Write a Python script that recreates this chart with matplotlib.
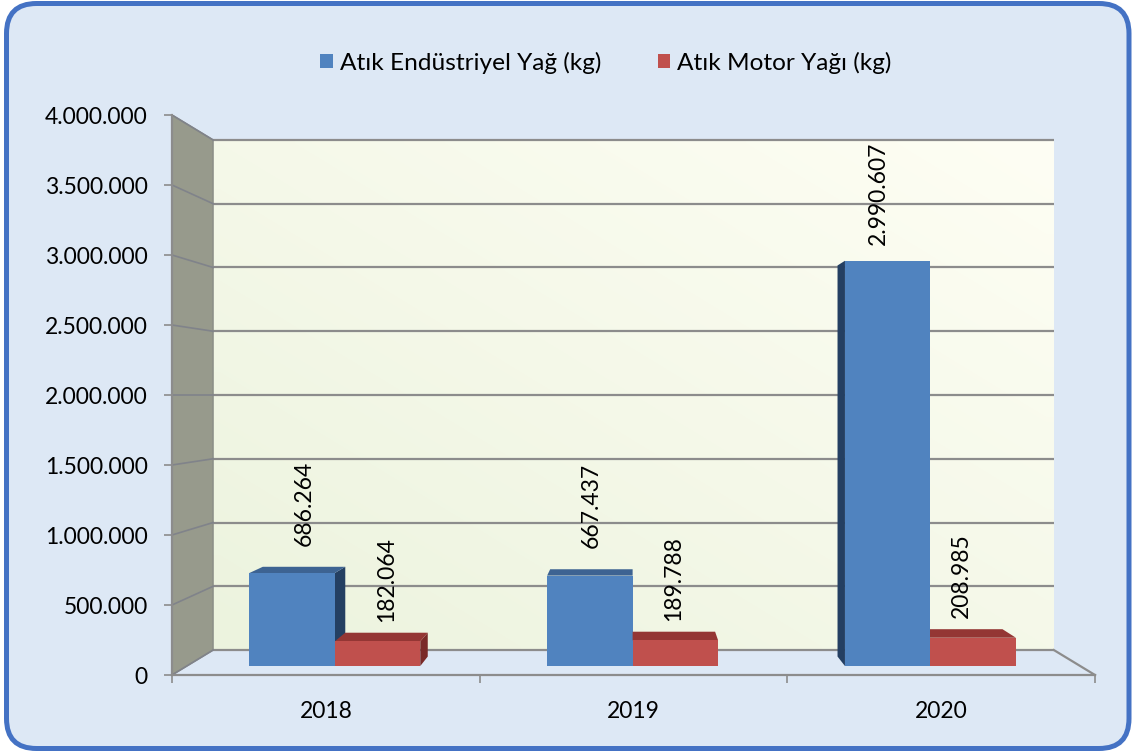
import numpy as np
import matplotlib
matplotlib.use('Agg')
import matplotlib.pyplot as plt
from matplotlib.patches import FancyBboxPatch, Patch, Polygon
from matplotlib.transforms import IdentityTransform
from matplotlib.ticker import FuncFormatter

years = ['2018', '2019', '2020']
industrial_oil = [686264, 667437, 2990607]
motor_oil = [182064, 189788, 208985]
series_names = ['Atık Endüstriyel Yağ (kg)', 'Atık Motor Yağı (kg)']
series_values = [industrial_oil, motor_oil]

y_max = 4000000
y_step = 500000

# colours: front, top, side
palette = [('#5083bf', '#3d6392', '#243f62'),
           ('#c0504d', '#943634', '#7a2a28')]
label_pad = [15, 8]

plt.rcParams['font.family'] = ['Lato', 'DejaVu Sans']
fs = 16.5

# simple perspective: deeper points shrink toward the centre of the plot
cx, cy = len(years) / 2, y_max / 2
back = 0.911
bar_front = 0.968
bar_back = 0.934
bar_w = 0.287
bar_start = 0.21


def proj(x, y, s):
    return cx + s * (x - cx), cy + s * (y - cy)


def dots(v, pos=None):
    return f'{int(v):,}'.replace(',', '.')


fig = plt.figure(figsize=(11.32, 7.51), dpi=100)
fig.patch.set_facecolor('white')
fig.patches.append(FancyBboxPatch((6.5, 2.5), 1122.5, 745,
                                  boxstyle='round,pad=0,rounding_size=30',
                                  transform=IdentityTransform(),
                                  fc='#dde8f5', ec='#4472c4', lw=3.6, zorder=-10))

ax = fig.add_axes([172 / 1132, 76 / 751, 923 / 1132, 560 / 751])
ax.patch.set_visible(False)
ax.set_xlim(0, len(years))
ax.set_ylim(0, y_max)

# back wall with a soft diagonal gradient
x0, y0 = proj(0, 0, back)
x1, y1 = proj(len(years), y_max, back)
n = 64
gx, gy = np.meshgrid(np.linspace(0, 1, n), np.linspace(0, 1, n))
t = ((gx + gy) / 2)[..., None]
c0 = np.array([236, 243, 222]) / 255
c1 = np.array([254, 254, 244]) / 255
ax.imshow(c0 * (1 - t) + c1 * t, extent=(x0, x1, y0, y1), origin='lower',
          aspect='auto', interpolation='bilinear', zorder=0)
ax.set_xlim(0, len(years))
ax.set_ylim(0, y_max)

# left side wall
ax.add_patch(Polygon([proj(0, 0, 1), proj(0, y_max, 1), proj(0, y_max, back), proj(0, 0, back)],
                     closed=True, fc='#979a8c', ec='#8a8d86', lw=1, zorder=1))

# gridlines on back and side walls
for v in np.arange(0, y_max + 1, y_step):
    a, b = proj(0, v, back), proj(len(years), v, back)
    ax.plot([a[0], b[0]], [a[1], b[1]], color='#8c8c8c', lw=1.6, zorder=2, solid_capstyle='butt')
    c = proj(0, v, 1)
    ax.plot([c[0], a[0]], [c[1], a[1]], color='#80838a', lw=1.2, zorder=2)

# floor right edge
a, b = proj(len(years), 0, 1), proj(len(years), 0, back)
ax.plot([a[0], b[0]], [a[1], b[1]], color='#8c8c8c', lw=1.6, zorder=2, clip_on=False)

# bars, drawn far-from-centre first
bars = []
for j, vals in enumerate(series_values):
    for i, v in enumerate(vals):
        xl = i + bar_start + j * bar_w
        bars.append((xl, xl + bar_w, v, j))
bars.sort(key=lambda b: -abs((b[0] + b[1]) / 2 - cx))

z = 3
for xl, xr, v, j in bars:
    front, top, side = palette[j]
    if xr < cx:
        ax.add_patch(Polygon([proj(xr, 0, bar_front), proj(xr, v, bar_front),
                              proj(xr, v, bar_back), proj(xr, 0, bar_back)], fc=side, lw=0, zorder=z))
    if xl > cx:
        ax.add_patch(Polygon([proj(xl, 0, bar_front), proj(xl, v, bar_front),
                              proj(xl, v, bar_back), proj(xl, 0, bar_back)], fc=side, lw=0, zorder=z))
    if v < cy:
        ax.add_patch(Polygon([proj(xl, v, bar_front), proj(xr, v, bar_front),
                              proj(xr, v, bar_back), proj(xl, v, bar_back)], fc=top, lw=0, zorder=z))
    ax.add_patch(Polygon([proj(xl, 0, bar_front), proj(xr, 0, bar_front),
                          proj(xr, v, bar_front), proj(xl, v, bar_front)], fc=front, lw=0, zorder=z + 0.5))
    z += 1
    ax.annotate(dots(v), xy=proj((xl + xr) / 2, v, bar_back), xytext=(0, label_pad[j]),
                textcoords='offset points', rotation=90, ha='center', va='bottom',
                fontsize=fs, color='black', zorder=20)

# axes styling
for name, sp in ax.spines.items():
    sp.set_visible(name in ('left', 'bottom'))
    sp.set_color('#8c8c8c')
    sp.set_linewidth(1.6)
ax.set_yticks(np.arange(0, y_max + 1, y_step))
ax.yaxis.set_major_formatter(FuncFormatter(dots))
ax.tick_params(axis='y', direction='out', length=5.5, width=1.2, color='#8c8c8c',
               pad=12, labelsize=fs)
ax.set_xticks(range(len(years) + 1))
ax.set_xticklabels([])
ax.set_xticks([i + 0.5 for i in range(len(years))], minor=True)
ax.set_xticklabels(years, minor=True, fontsize=fs)
ax.tick_params(axis='x', which='major', direction='out', length=5.5, width=1.2, color='#8c8c8c')
ax.tick_params(axis='x', which='minor', length=0, pad=19)

handles = [Patch(facecolor=palette[k][0], edgecolor='none', label=series_names[k]) for k in range(2)]
fig.legend(handles=handles, loc='center', bbox_to_anchor=(606 / 1132, 1 - 63 / 751), ncol=2,
           frameon=False, fontsize=17.6, handlelength=0.5, handleheight=0.5,
           handletextpad=0.3, columnspacing=2.3)

fig.savefig('out.png', dpi=100)
